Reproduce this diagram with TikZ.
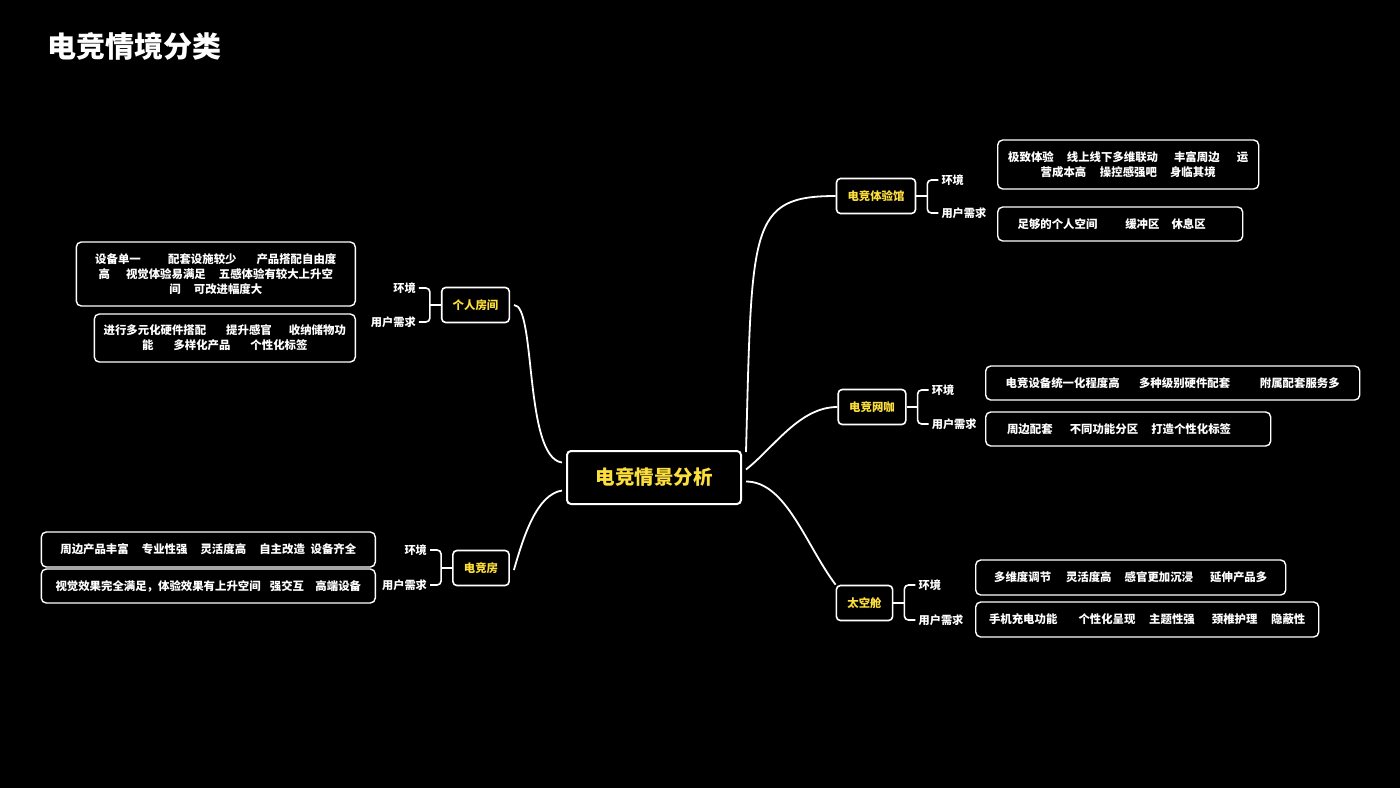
\documentclass[tikz,border=0pt]{standalone}
\usepackage{fontspec}
\setmainfont{Noto Sans CJK SC}
\usepackage{tikz}
\usetikzlibrary{positioning}
\definecolor{mapyellow}{RGB}{252,222,60}
\newcommand{\gapw}[1]{\hspace{#1em}}
\tikzset{
  rootbox/.style={
    rectangle,
    rounded corners=4pt,
    draw=white,
    line width=2pt,
    text=mapyellow,
    minimum width=174pt,
    minimum height=53pt,
    font=\fontsize{19.5}{22}\selectfont\bfseries
  },
  topicbox/.style={
    rectangle,
    rounded corners=4pt,
    draw=white,
    line width=1.6pt,
    text=mapyellow,
    inner xsep=11pt,
    minimum height=35pt,
    font=\fontsize{11.4}{14}\selectfont\bfseries
  },
  tagtext/.style={
    text=white,
    inner sep=3pt,
    font=\fontsize{11.2}{13}\selectfont\bfseries
  },
  infobox/.style={
    rectangle,
    rounded corners=5pt,
    draw=white,
    line width=1.4pt,
    text=white,
    align=center,
    inner sep=0pt,
    font=\fontsize{11.4}{15}\selectfont\bfseries
  },
  maplink/.style={
    draw=white,
    line width=1.8pt
  },
  bracket/.style={
    draw=white,
    line width=1.6pt,
    rounded corners=4pt
  }
}

\begin{document}
\begin{tikzpicture}[x=1pt,y=-1pt]
\fill[black] (0,0) rectangle (1400,788);
\useasboundingbox (0,0) rectangle (1400,788);

\node[anchor=west, text=white, font=\fontsize{29}{32}\selectfont\bfseries] (title) at (44,46) {电竞情境分类};

% centre
\node[rootbox] (root) at (654,477.5) {电竞情景分析};

% topics
\node[topicbox] (exphall) at (876,196) {电竞体验馆};
\node[topicbox] (netcafe) at (872,407) {电竞网咖};
\node[topicbox] (capsule) at (864.5,603) {太空舱};
\node[topicbox] (myroom) at (475.5,305) {个人房间};
\node[topicbox] (gameroom) at (481,568) {电竞房};

% right side labels
\node[tagtext, anchor=west] (exphallenv) at ([shift={(22,-16)}]exphall.east) {环境};
\node[tagtext, anchor=west] (exphallneed) at ([shift={(22,17)}]exphall.east) {用户需求};
\node[tagtext, anchor=west] (netcafeenv) at ([shift={(22,-17)}]netcafe.east) {环境};
\node[tagtext, anchor=west] (netcafeneed) at ([shift={(22,17)}]netcafe.east) {用户需求};
\node[tagtext, anchor=west] (capsuleenv) at ([shift={(22,-18)}]capsule.east) {环境};
\node[tagtext, anchor=west] (capsuleneed) at ([shift={(22,17)}]capsule.east) {用户需求};

% left side labels
\node[tagtext, anchor=east] (myroomenv) at ([shift={(-22,-17)}]myroom.west) {环境};
\node[tagtext, anchor=east] (myroomneed) at ([shift={(-22,17)}]myroom.west) {用户需求};
\node[tagtext, anchor=east] (gameroomenv) at ([shift={(-22,-18)}]gameroom.west) {环境};
\node[tagtext, anchor=east] (gameroomneed) at ([shift={(-22,17)}]gameroom.west) {用户需求};

% detail boxes
\node[infobox, anchor=west, minimum width=261pt, minimum height=49pt] (exphallenvbox) at (997,164.5)
  {极致体验\gapw{1.15}线上线下多维联动\gapw{1.4}丰富周边\gapw{1.5}运\\营成本高\gapw{1.2}操控感强吧\gapw{1.15}身临其境};
\node[infobox, anchor=west, minimum width=245pt, minimum height=34pt] (exphallneedbox) at (997,224)
  {足够的个人空间\gapw{2.45}缓冲区\gapw{1.05}休息区\gapw{1.5}};
\node[infobox, anchor=west, minimum width=374pt, minimum height=34pt] (netcafeenvbox) at (985,383)
  {电竞设备统一化程度高\gapw{1.7}多种级别硬件配套\gapw{2.6}附属配套服务多};
\node[infobox, anchor=west, minimum width=285pt, minimum height=34pt] (netcafeneedbox) at (985,429)
  {周边配套\gapw{1.5}不同功能分区\gapw{1.15}打造个性化标签\gapw{1.6}};
\node[infobox, anchor=west, minimum width=310pt, minimum height=35pt] (capsuleenvbox) at (975,577.5)
  {多维度调节\gapw{1.3}灵活度高\gapw{1.15}感官更加沉浸\gapw{1.5}延伸产品多};
\node[infobox, anchor=west, minimum width=343pt, minimum height=35pt] (capsuleneedbox) at (975,619.5)
  {手机充电功能\gapw{1.85}个性化呈现\gapw{1.2}主题性强\gapw{1.5}颈椎护理\gapw{1.2}隐蔽性};
\node[infobox, anchor=east, minimum width=279pt, minimum height=64pt] (myroomenvbox) at (356,274)
  {设备单一\gapw{2.4}配套设施较少\gapw{1.75}产品搭配自由度\\高\gapw{1.4}视觉体验易满足\gapw{1.15}五感体验有较大上升空\\间\gapw{1.15}可改进幅度大};
\node[infobox, anchor=east, minimum width=261pt, minimum height=48pt] (myroomneedbox) at (356,338)
  {进行多元化硬件搭配\gapw{1.75}提升感官\gapw{1.5}收纳储物功\\能\gapw{1.75}多样化产品\gapw{1.75}个性化标签\gapw{1.3}};
\node[infobox, anchor=east, minimum width=334pt, minimum height=35pt] (gameroomenvbox) at (376,549.5)
  {周边产品丰富\gapw{1.15}专业性强\gapw{1.15}灵活度高\gapw{1.15}自主改造\gapw{0.5}设备齐全};
\node[infobox, anchor=east, minimum width=334pt, minimum height=34pt] (gameroomneedbox) at (376,586)
  {视觉效果完全满足，体验效果有上升空间\gapw{0.8}强交互\gapw{1}高端设备};

% main branches
\draw[maplink] ([shift={(4,2)}]root.north east) .. controls +(6,-225) and +(-87,0) .. (exphall.west);
\draw[maplink] ([shift={(4,-8)}]root.east) .. controls +(28,-22) and +(-38,0) .. (netcafe.west);
\draw[maplink] ([shift={(4,4)}]root.east) .. controls +(40,0) and +(-30,-40) .. (capsule.north west);
\draw[maplink] ([shift={(-4,-15)}]root.west) .. controls +(-38,-5) and +(22,0) .. ([xshift=4pt]myroom.east);
\draw[maplink] ([shift={(-4,13)}]root.west) .. controls +(-25,4) and +(10,-35) .. ([shift={(4,2)}]gameroom.east);

% brackets
\foreach \topic in {exphall,netcafe,capsule}{
  \draw[maplink] (\topic.east) -- ++(11,0);
  \draw[bracket] (\topic env.west) -- ++(-11,0) |- (\topic need.west);
}
\foreach \topic in {myroom,gameroom}{
  \draw[maplink] (\topic.west) -- ++(-11,0);
  \draw[bracket] (\topic env.east) -- ++(11,0) |- (\topic need.east);
}
\end{tikzpicture}
\end{document}
